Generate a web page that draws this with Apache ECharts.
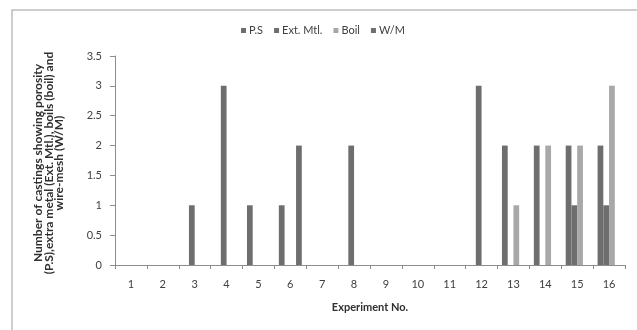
<!DOCTYPE html>
<html>
<head>
<meta charset="utf-8">
<script src="https://cdn.jsdelivr.net/npm/echarts@6/dist/echarts.min.js"></script>
<style>
html,body{margin:0;padding:0;background:#fff;}
#c{width:637px;height:330px;}
</style>
</head>
<body>
<div id="c"></div>
<script>
var categories = ['1','2','3','4','5','6','7','8','9','10','11','12','13','14','15','16'];
var seriesNames = ['P.S','Ext. Mtl.','Boil','W/M'];
var psValues   = [0,0,0,0,1,1,0,0,0,0,0,0,2,2,2,2];
var extValues  = [0,0,1,3,0,0,0,2,0,0,0,3,0,0,1,1];
var boilValues = [0,0,0,0,0,0,0,0,0,0,0,0,1,2,2,3];
var wmValues   = [0,0,0,0,0,2,0,0,0,0,0,0,0,0,0,0];
var seriesColors = ['#6e6e6e','#6e6e6e','#a8a8a8','#6e6e6e'];
var yTicks = {min:0, max:3.5, interval:0.5};
var yAxisTitle = 'Number of castings showing porosity\n(P.S),extra metal (Ext. Mtl.), boils (boil) and\nwire-mesh (W/M)';
var xAxisTitle = 'Experiment No.';

var font = 'Lato, "Open Sans", sans-serif';
var chart = echarts.init(document.getElementById('c'));
var allValues = [psValues, extValues, boilValues, wmValues];
var series = seriesNames.map(function(n,i){
  return {
    name:n, type:'bar', data:allValues[i],
    barGap:'0%', barCategoryGap:'28%',
    itemStyle:{color:seriesColors[i]}
  };
});
chart.setOption({
  animation:false,
  textStyle:{fontFamily:font},
  graphic:[{
    type:'polyline', silent:true,
    shape:{points:[[12,330],[12,10],[637,10]]},
    style:{stroke:'#bdbdbd', lineWidth:1.5, fill:null}
  },{
    type:'text', silent:true,
    x:49, y:163, rotation:Math.PI/2,
    style:{
      text:yAxisTitle, fontFamily:font, fontSize:12, fontWeight:'bold',
      fill:'#303030', lineHeight:10.5, align:'center', verticalAlign:'middle'
    }
  }],
  legend:{
    data:seriesNames, left:236, top:20,
    icon:'rect', itemWidth:5, itemHeight:5, itemGap:11,
    textStyle:{fontFamily:font, fontSize:11, color:'#404040', padding:[0,0,0,-2]}
  },
  grid:{left:115, right:12, top:56, bottom:65},
  xAxis:{
    type:'category', data:categories,
    name:xAxisTitle, nameLocation:'middle', nameGap:37,
    nameTextStyle:{fontFamily:font, fontSize:11, fontWeight:'bold', color:'#303030'},
    axisLine:{lineStyle:{color:'#8c8c8c'}},
    axisTick:{show:true, length:4, lineStyle:{color:'#8c8c8c'}},
    axisLabel:{fontFamily:font, fontSize:11, color:'#404040', margin:14}
  },
  yAxis:{
    type:'value', min:yTicks.min, max:yTicks.max, interval:yTicks.interval,
    axisLine:{show:true, lineStyle:{color:'#8c8c8c'}},
    axisTick:{show:true, length:5, lineStyle:{color:'#8c8c8c'}},
    splitLine:{show:false},
    axisLabel:{fontFamily:font, fontSize:11, color:'#404040', margin:13}
  },
  series:series
});
</script>
</body>
</html>
